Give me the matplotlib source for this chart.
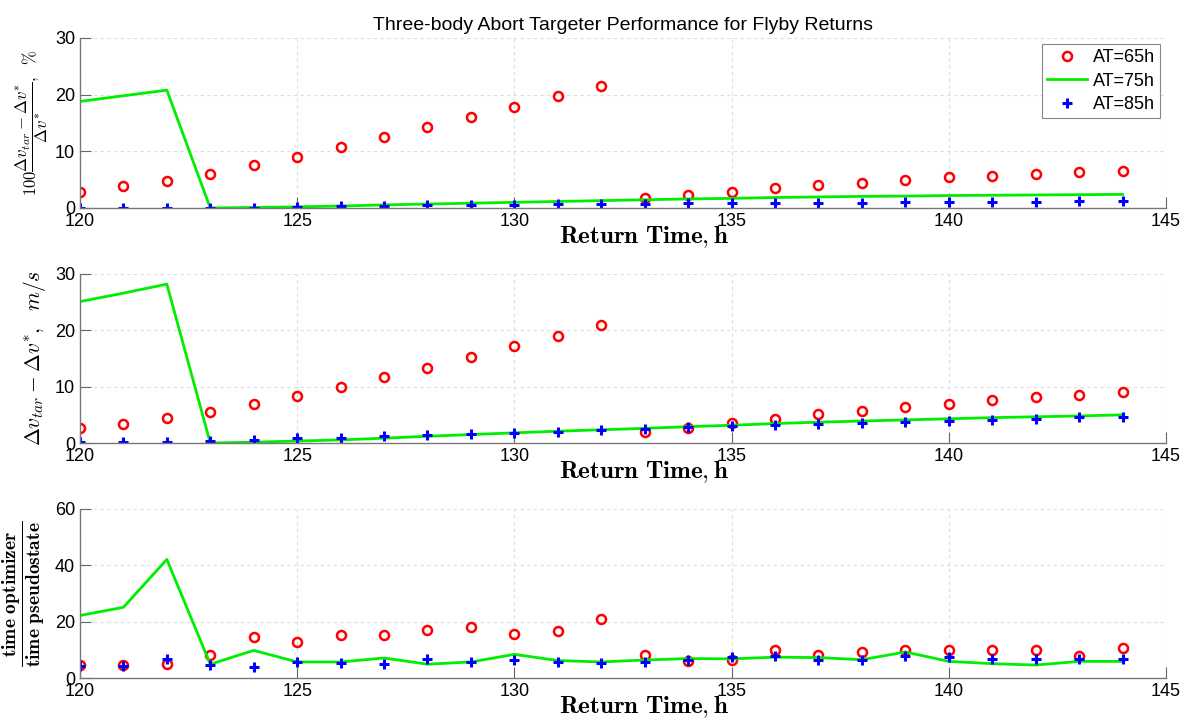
import numpy as np
import matplotlib
matplotlib.use("Agg")
import matplotlib.pyplot as plt

plt.rcParams['mathtext.fontset'] = 'cm'
plt.rcParams['font.family'] = ['Liberation Sans', 'DejaVu Sans']

return_time = list(range(120, 145))

# percent error, (dv_tar - dv*) / dv*
pct_65 = [2.9, 3.8, 4.8, 6.0, 7.5, 9.05, 10.7, 12.5, 14.3, 16.1, 17.9, 19.7, 21.5,
          1.7, 2.3, 2.9, 3.5, 4.0, 4.4, 4.9, 5.4, 5.7, 6.0, 6.3, 6.5]
pct_75 = [18.8, 19.8, 20.8, 0.0, 0.1, 0.2, 0.35, 0.55, 0.7, 0.85, 1.0, 1.15, 1.3,
          1.45, 1.6, 1.7, 1.85, 1.95, 2.05, 2.1, 2.2, 2.25, 2.3, 2.35, 2.4]
pct_85 = [0.0, 0.0, 0.0, 0.0, 0.05, 0.25, 0.4, 0.4, 0.5, 0.6, 0.6, 0.7, 0.7,
          0.7, 0.8, 0.8, 0.85, 0.9, 0.95, 1.0, 1.05, 1.05, 1.1, 1.2, 1.3]

# delta-v difference, m/s
dv_65 = [2.66, 3.4, 4.4, 5.5, 6.9, 8.3, 9.9, 11.7, 13.4, 15.3, 17.2, 19.05, 20.9,
         1.95, 2.7, 3.6, 4.3, 5.1, 5.75, 6.45, 7.0, 7.6, 8.2, 8.6, 9.05]
dv_75 = [25.1, 26.6, 28.2, 0.0, 0.15, 0.35, 0.55, 0.85, 1.2, 1.5, 1.8, 2.1, 2.35,
         2.6, 2.9, 3.15, 3.45, 3.7, 3.9, 4.1, 4.3, 4.5, 4.65, 4.8, 5.0]
dv_85 = [0.1, 0.1, 0.25, 0.4, 0.6, 0.8, 0.95, 1.25, 1.35, 1.6, 1.85, 2.0, 2.25,
         2.55, 2.8, 2.95, 3.15, 3.4, 3.55, 3.7, 3.95, 4.15, 4.3, 4.55, 4.7]

# run time ratio, optimizer / pseudostate
ratio_65 = [4.6, 4.6, 5.1, 8.1, 14.4, 12.7, 15.3, 15.4, 17.1, 18.0, 15.8, 16.8, 21.1,
            8.1, 6.05, 6.3, 9.8, 8.2, 9.25, 10.1, 10.1, 9.8, 9.8, 7.95, 10.55]
ratio_75 = [22.2, 25.1, 42.1, 4.9, 9.8, 5.7, 5.7, 7.1, 4.9, 5.7, 8.4, 6.2, 5.7,
            6.4, 6.9, 6.8, 7.4, 7.25, 6.5, 9.25, 5.9, 5.1, 4.6, 5.9, 5.9]
ratio_85 = [4.3, 4.4, 6.8, 4.6, 4.0, 5.7, 5.5, 5.1, 6.6, 5.6, 6.5, 5.8, 5.5,
            5.6, 6.5, 7.5, 7.7, 6.4, 6.4, 7.95, 7.5, 6.8, 6.8, 6.8, 6.8]

panels = [
    (pct_65, pct_75, pct_85, [0, 10, 20, 30],
     r'$100\dfrac{\Delta v_{tar}-\Delta v^{*}}{\Delta v^{*}},\ \ \%$', 12, -0.028),
    (dv_65, dv_75, dv_85, [0, 10, 20, 30],
     r'$\Delta v_{tar}-\Delta v^{*},\ \ m/s$', 15.5, -0.029),
    (ratio_65, ratio_75, ratio_85, [0, 20, 40, 60],
     r'$\dfrac{\mathbf{time\ optimizer}}{\mathbf{time\ pseudostate}}$', 14, -0.030),
]

fig = plt.figure(figsize=(11.88, 7.26), dpi=100)
positions = [[0.0673, 0.7135, 0.9142, 0.2342],
             [0.0673, 0.3898, 0.9142, 0.2328],
             [0.0673, 0.0661, 0.9142, 0.2328]]

axes = []
for pos, (s65, s75, s85, yt, ylab, ysize, ylx) in zip(positions, panels):
    ax = fig.add_axes(pos)
    ax.plot(return_time, s65, linestyle='none', marker='o', markersize=6.5,
            markerfacecolor='none', markeredgecolor='red', markeredgewidth=1.8,
            label='AT=65h')
    ax.plot(return_time, s75, color='#00ee00', linewidth=2.0, label='AT=75h')
    ax.plot(return_time, s85, linestyle='none', marker='+', markersize=7,
            markeredgecolor='blue', markeredgewidth=2.2, label='AT=85h')
    ax.set_xlim(120, 145)
    ax.set_ylim(yt[0], yt[-1])
    ax.set_xticks([120, 125, 130, 135, 140, 145])
    ax.set_yticks(yt)
    ax.grid(True, linestyle=(0, (3, 3)), color='#dddddd', linewidth=0.8)
    ax.tick_params(direction='in', length=8, color='#666666', labelsize=13,
                   width=0.8)
    for side in ['top', 'right']:
        ax.spines[side].set_visible(False)
    for side in ['left', 'bottom']:
        ax.spines[side].set_color('#777777')
        ax.spines[side].set_linewidth(1.0)
    ax.set_xlabel(r'$\mathbf{Return\ Time,h}$', fontsize=18)
    ax.xaxis.set_label_coords(0.519, -0.095)
    ax.set_ylabel(ylab, fontsize=ysize)
    ax.yaxis.set_label_coords(ylx, 0.5)
    axes.append(ax)

axes[0].set_title('Three-body Abort Targeter Performance for Flyby Returns',
                  fontsize=14, pad=6)
leg = axes[0].legend(loc='upper right', bbox_to_anchor=(0.9945, 0.965),
                     fontsize=13, fancybox=False, framealpha=1,
                     edgecolor='#888888', handlelength=2.2, borderpad=0.3,
                     labelspacing=0.35, handletextpad=0.3, borderaxespad=0)
leg.get_frame().set_linewidth(0.8)

fig.savefig('out.png', dpi=100)
